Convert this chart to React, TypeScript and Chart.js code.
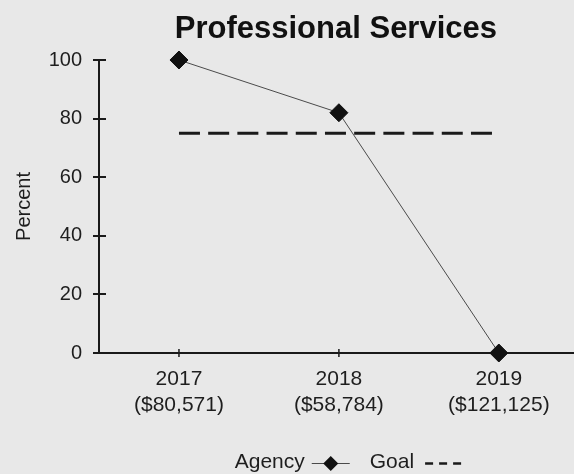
import React, { useEffect, useRef } from 'react';
import { Chart, registerables } from 'chart.js';

Chart.register(...registerables);

const TITLE = 'Professional Services';
const Y_TITLE = 'Percent';
const years = ['2017', '2018', '2019'];
const amounts = ['($80,571)', '($58,784)', '($121,125)'];
const agency = [100, 82, 0];
const goal = [75, 75, 75];
const seriesNames = ['Agency', 'Goal'];

const FONT = "'Liberation Sans', Arial, Helvetica, sans-serif";
const TEXT = '#1e1e1e';
const AXIS = '#1a1a1a';
const LINE = '#4a4a4a';
const BG = '#e8e8e8';

const decorPlugin = {
  id: 'decor',
  beforeDatasetsDraw(chart: any) {
    const { ctx, chartArea, scales } = chart;
    const xs = scales.x;
    const ys = scales.y;
    ctx.save();
    ctx.strokeStyle = AXIS;
    ctx.lineWidth = 2;
    ys.ticks.forEach((t: any) => {
      const py = Math.round(ys.getPixelForValue(t.value));
      ctx.beginPath();
      ctx.moveTo(chartArea.left - 6, py);
      ctx.lineTo(chartArea.left + 7, py);
      ctx.stroke();
    });
    ctx.lineWidth = 1.5;
    xs.ticks.forEach((t: any) => {
      const px = xs.getPixelForValue(t.value);
      ctx.beginPath();
      ctx.moveTo(px, chartArea.bottom - 4);
      ctx.lineTo(px, chartArea.bottom + 4);
      ctx.stroke();
    });
    ctx.restore();
  },
  afterDraw(chart: any) {
    const { ctx, chartArea, scales } = chart;
    const xs = scales.x;
    const plotCenter = (chartArea.left + xs.getPixelForValue(2.5)) / 2;
    ctx.save();
    // Title
    ctx.fillStyle = '#111';
    ctx.font = `bold 31px ${FONT}`;
    ctx.textAlign = 'center';
    ctx.textBaseline = 'alphabetic';
    ctx.fillText(TITLE, plotCenter - 3, 38);

    // Legend
    ctx.font = `21px ${FONT}`;
    ctx.textAlign = 'left';
    const baseline = 468;
    const midY = 463.5;
    const wA = ctx.measureText(seriesNames[0]).width;
    const wG = ctx.measureText(seriesNames[1]).width;
    const gap1 = 7, markerW = 38, gap2 = 20, gap3 = 11, dashW = 36;
    const total = wA + gap1 + markerW + gap2 + wG + gap3 + dashW;
    let sx = plotCenter + 9 - total / 2;
    ctx.fillStyle = TEXT;
    ctx.fillText(seriesNames[0], sx, baseline);
    sx += wA + gap1;
    ctx.strokeStyle = LINE;
    ctx.lineWidth = 1;
    ctx.beginPath();
    ctx.moveTo(sx, midY);
    ctx.lineTo(sx + markerW, midY);
    ctx.stroke();
    const cx = sx + markerW / 2;
    const r = 7.5;
    ctx.fillStyle = '#111';
    ctx.beginPath();
    ctx.moveTo(cx - r, midY);
    ctx.lineTo(cx, midY - r);
    ctx.lineTo(cx + r, midY);
    ctx.lineTo(cx, midY + r);
    ctx.closePath();
    ctx.fill();
    sx += markerW + gap2;
    ctx.fillStyle = TEXT;
    ctx.fillText(seriesNames[1], sx, baseline);
    sx += wG + gap3;
    ctx.strokeStyle = AXIS;
    ctx.lineWidth = 2.5;
    ctx.setLineDash([8, 6]);
    ctx.beginPath();
    ctx.moveTo(sx, midY);
    ctx.lineTo(sx + dashW, midY);
    ctx.stroke();
    ctx.restore();
  },
};

export default function App() {
  const canvasRef = useRef<HTMLCanvasElement | null>(null);

  useEffect(() => {
    const canvas = canvasRef.current;
    if (!canvas) return;
    const chart = new Chart(canvas, {
      type: 'line',
      data: {
        datasets: [
          {
            label: seriesNames[0],
            data: agency.map((v, i) => ({ x: i, y: v })),
            borderColor: LINE,
            borderWidth: 1,
            pointStyle: 'rectRot',
            pointRadius: 9,
            pointBackgroundColor: '#111',
            pointBorderColor: '#111',
            pointBorderWidth: 1,
            clip: false,
            order: 0,
          },
          {
            label: seriesNames[1],
            data: goal.map((v, i) => ({ x: i, y: v })),
            borderColor: AXIS,
            borderWidth: 3,
            borderDash: [21, 8.2],
            pointRadius: 0,
            clip: false,
            order: 1,
          },
        ],
      },
      options: {
        animation: false,
        responsive: false,
        layout: { autoPadding: false, padding: { top: 60, left: 0, right: 0, bottom: 0 } },
        plugins: {
          legend: { display: false },
          title: { display: false },
          tooltip: { enabled: false },
        },
        scales: {
          x: {
            type: 'linear',
            min: -0.5,
            max: 2.47,
            grid: { display: false, drawTicks: false },
            border: { display: true, color: AXIS, width: 2 },
            afterBuildTicks: (scale: any) => {
              scale.ticks = years.map((_, i) => ({ value: i }));
            },
            afterFit: (scale: any) => {
              scale.height = 121;
              scale.paddingLeft = 0;
              scale.paddingRight = 0;
            },
            ticks: {
              autoSkip: false,
              maxRotation: 0,
              padding: 13,
              color: TEXT,
              font: { family: FONT, size: 21, lineHeight: 1.26 },
              callback: (value: any) => {
                const i = Math.round(Number(value));
                return [years[i], amounts[i]];
              },
            },
          },
          y: {
            min: 0,
            max: 100,
            grid: { display: false, drawTicks: false },
            border: { display: true, color: AXIS, width: 2 },
            afterFit: (scale: any) => {
              scale.width = 99;
              scale.paddingTop = 0;
              scale.paddingBottom = 0;
            },
            ticks: {
              stepSize: 20,
              padding: 17,
              color: TEXT,
              font: { family: FONT, size: 20 },
            },
            title: {
              display: true,
              text: Y_TITLE,
              color: TEXT,
              font: { family: FONT, size: 20 },
              padding: { top: 12, bottom: 0 },
            },
          },
        },
      },
      plugins: [decorPlugin],
    } as any);
    return () => chart.destroy();
  }, []);

  return (
    <div
      style={{
        position: 'fixed',
        left: 0,
        top: 0,
        width: 574,
        height: 474,
        background: BG,
        overflow: 'hidden',
      }}
    >
      <canvas ref={canvasRef} width={574} height={474} style={{ display: 'block' }} />
    </div>
  );
}
